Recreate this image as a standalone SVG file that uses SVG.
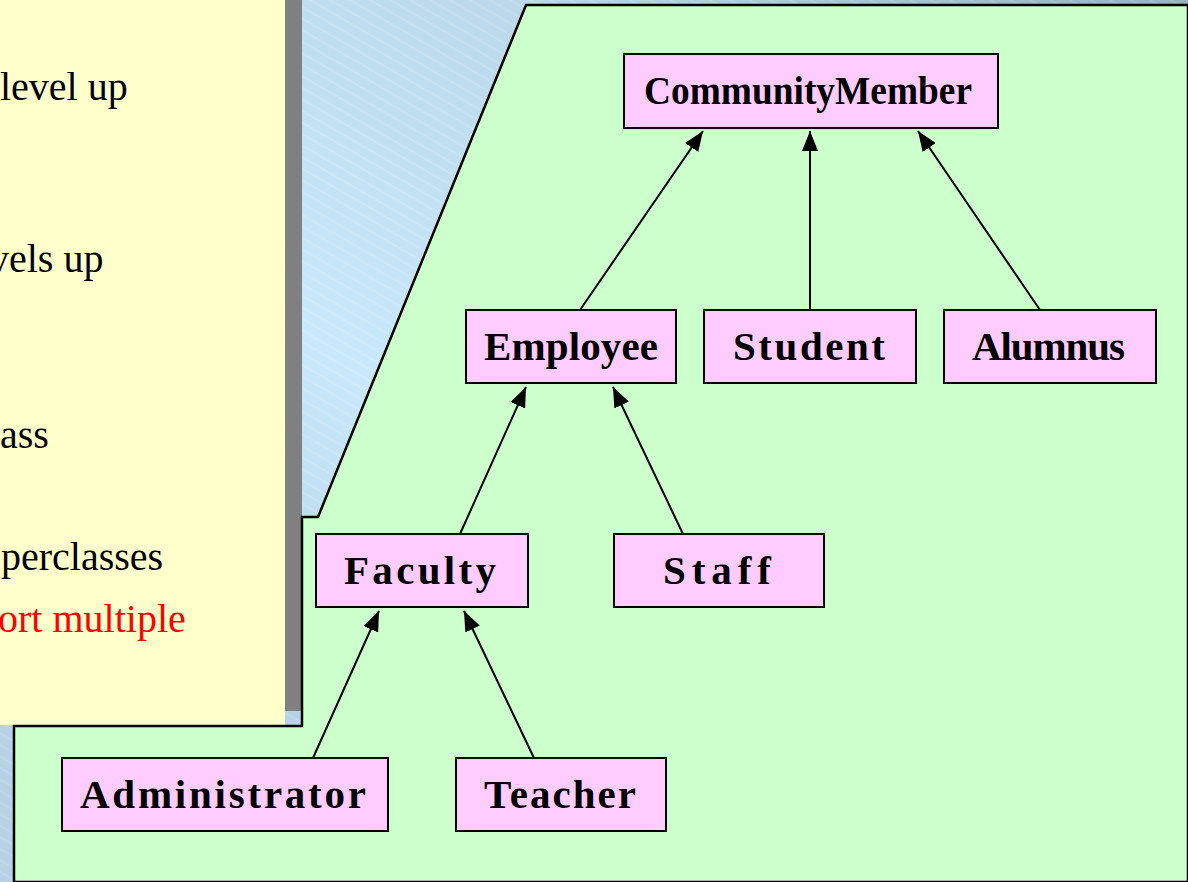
<svg xmlns="http://www.w3.org/2000/svg" width="1188" height="882" viewBox="0 0 1188 882">
<defs>
<linearGradient id="bg" x1="1" y1="0" x2="0.2" y2="0.8">
<stop offset="0" stop-color="#9ab0c4"/>
<stop offset="0.35" stop-color="#bcd8ea"/>
<stop offset="0.7" stop-color="#cae8fc"/>
<stop offset="1" stop-color="#b6d2e4"/>
</linearGradient>
<pattern id="stripes" width="40" height="10" patternUnits="userSpaceOnUse" patternTransform="rotate(30)">
<line x1="0" y1="5" x2="40" y2="5" stroke="#ffffff" stroke-opacity="0.18" stroke-width="1"/>
</pattern>
<marker id="arr" viewBox="0 0 20 16" refX="20" refY="8" markerWidth="20" markerHeight="16" markerUnits="userSpaceOnUse" orient="auto">
<path d="M0,0 L20,8 L0,16 z" fill="#000"/>
</marker>
<style>
.node rect{fill:#ffccff;stroke:#000;stroke-width:2}
.node text{font-family:"Liberation Serif","Times New Roman",serif;font-weight:bold;font-size:41px;fill:#000}
.tx{font-family:"Liberation Serif","Times New Roman",serif;font-size:40px}
#connectors line{stroke:#000;stroke-width:2;marker-end:url(#arr)}
</style>
</defs>
<rect width="1188" height="882" fill="url(#bg)"/>
<rect width="1188" height="882" fill="url(#stripes)"/>
<g id="note">
<rect x="285" y="0" width="17" height="711" fill="#808080"/>
<rect x="0" y="0" width="285" height="725" fill="#ffffcc"/>
<text class="tx" x="0" y="100" fill="#000000">level up</text>
<text class="tx" x="-11" y="272" fill="#000000">vels up</text>
<text class="tx" x="0" y="448" fill="#000000">ass</text>
<text class="tx" x="1" y="570" fill="#000000">perclasses</text>
<text class="tx" x="-2" y="632" fill="#ff0000">ort multiple</text>
</g>
<polygon id="panel" points="526,5 1188,5 1188,882 14,882 14,726 302,726 302,517 318,517" fill="#ccffcc" stroke="#000" stroke-width="2.5" stroke-linejoin="miter"/>
<g id="connectors">
<line x1="580" y1="310" x2="703" y2="131"/>
<line x1="810" y1="310" x2="810" y2="131"/>
<line x1="1040" y1="310" x2="918" y2="131"/>
<line x1="460" y1="534" x2="526" y2="387"/>
<line x1="683" y1="534" x2="613" y2="387"/>
<line x1="313" y1="758" x2="379" y2="611"/>
<line x1="534" y1="758" x2="464" y2="611"/>
</g>
<g id="CommunityMember" class="node"><rect x="624" y="54" width="374" height="74"/><text x="644" y="104" textLength="328" lengthAdjust="spacingAndGlyphs">CommunityMember</text></g>
<g id="Employee" class="node"><rect x="466" y="310" width="210" height="73"/><text x="484" y="360" textLength="174" lengthAdjust="spacing">Employee</text></g>
<g id="Student" class="node"><rect x="704" y="310" width="212" height="73"/><text x="733" y="360" textLength="152" lengthAdjust="spacing">Student</text></g>
<g id="Alumnus" class="node"><rect x="944" y="310" width="212" height="73"/><text x="972" y="360" textLength="153" lengthAdjust="spacing">Alumnus</text></g>
<g id="Faculty" class="node"><rect x="316" y="534" width="212" height="73"/><text x="344" y="584" textLength="152" lengthAdjust="spacing">Faculty</text></g>
<g id="Staff" class="node"><rect x="614" y="534" width="210" height="73"/><text x="663" y="584" textLength="108" lengthAdjust="spacing">Staff</text></g>
<g id="Administrator" class="node"><rect x="62" y="758" width="326" height="73"/><text x="80" y="808" textLength="286" lengthAdjust="spacing">Administrator</text></g>
<g id="Teacher" class="node"><rect x="456" y="758" width="210" height="73"/><text x="484" y="808" textLength="152" lengthAdjust="spacing">Teacher</text></g>
</svg>
